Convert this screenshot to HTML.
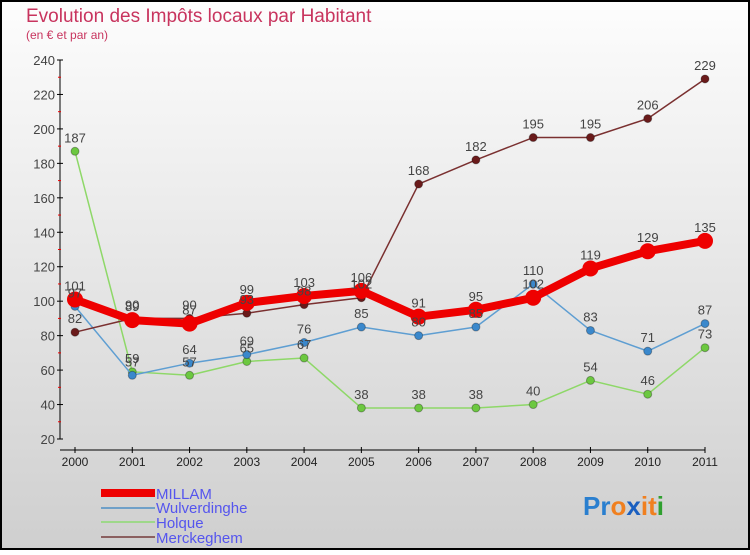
<!DOCTYPE html>
<html><head><meta charset="utf-8"><style>
html,body{margin:0;padding:0}
body{width:750px;height:550px;overflow:hidden;font-family:"Liberation Sans",sans-serif}
</style></head><body>
<svg id="chart" width="750" height="550" xmlns="http://www.w3.org/2000/svg">
<defs><linearGradient id="bg" x1="0" y1="0" x2="0" y2="1"><stop offset="0" stop-color="#fdfdfd"/><stop offset="1" stop-color="#cfcfcf"/></linearGradient></defs>
<rect x="1" y="1" width="748" height="548" fill="url(#bg)" stroke="#000" stroke-width="2"/>
<text x="26" y="22" font-size="19" fill="#c8345e">Evolution des Impôts locaux par Habitant</text>
<text x="26" y="39" font-size="12" fill="#c8345e">(en € et par an)</text>
<g id="axes"></g><g id="series"></g><g id="labels"></g>
<g>
<rect x="101" y="489" width="54" height="8" fill="#ee0000"/><text x="156" y="499" font-size="15" fill="#5555ee">MILLAM</text>
<line x1="101" y1="508" x2="155" y2="508" stroke="#6fa0c8" stroke-width="2"/><text x="156" y="513" font-size="15" fill="#5555ee">Wulverdinghe</text>
<line x1="101" y1="522" x2="155" y2="522" stroke="#9ed88a" stroke-width="2"/><text x="156" y="528" font-size="15" fill="#5555ee">Holque</text>
<line x1="101" y1="537" x2="155" y2="537" stroke="#8b6060" stroke-width="2"/><text x="156" y="543" font-size="15" fill="#5555ee">Merckeghem</text>
</g>
<g font-size="26" font-weight="bold">
<text x="583" y="515"><tspan fill="#2a7fcf">Pr</tspan><tspan fill="#f08020">o</tspan><tspan fill="#1a5fc0">x</tspan><tspan fill="#f08020">i</tspan><tspan fill="#f08020">t</tspan><tspan fill="#30a030">i</tspan></text>
</g>
</svg>
<script>
const years=["2000","2001","2002","2003","2004","2005","2006","2007","2008","2009","2010","2011"];
const yTicks=[20,40,60,80,100,120,140,160,180,200,220,240];
const millam=[101,89,87,99,103,106,91,95,102,119,129,135];
const wulverdinghe=[97,57,64,69,76,85,80,85,110,83,71,87];
const holque=[187,59,57,65,67,38,38,38,40,54,46,73];
const merckeghem=[82,90,90,93,98,102,168,182,195,195,206,229];
const NS="http://www.w3.org/2000/svg";
const xs=i=>75+i*(630/(years.length-1));
const ys=v=>60+(240-v)*379/220;
function mk(tag,attrs,parent){const e=document.createElementNS(NS,tag);for(const k in attrs)e.setAttribute(k,attrs[k]);parent.appendChild(e);return e;}
const ax=document.getElementById('axes');
const yl=mk('line',{x1:60,y1:60,x2:60,y2:439,stroke:'#000'},ax);


const xl=mk('line',{x1:60,y1:450,x2:705,y2:450,stroke:'#000'},ax);


yTicks.forEach(v=>{
 mk('line',{x1:57,y1:ys(v),x2:63,y2:ys(v),stroke:'#000'},ax);
 if(v<240) mk('line',{x1:58,y1:ys(v+10),x2:61,y2:ys(v+10),stroke:'#e00'},ax);
 const t=mk('text',{x:55,y:ys(v)+5,'text-anchor':'end','font-size':13,fill:'#444'},ax);
 t.textContent=v;
 
 
});
years.forEach((y,i)=>{
 mk('line',{x1:xs(i),y1:447,x2:xs(i),y2:453,stroke:'#000'},ax);
 const t=mk('text',{x:xs(i),y:466,'text-anchor':'middle','font-size':12,fill:'#222'},ax);
 t.textContent=y;
 
 
});
const sg=document.getElementById('series'),lg=document.getElementById('labels');
const defs=[[holque,'#8ed868','#6cc840',1.5,4,'holque'],[wulverdinghe,'#5e9ed2','#3a88cc',1.5,4,'wulverdinghe'],[merckeghem,'#7a3030','#6a1a1a',1.5,4,'merckeghem'],[millam,'#ee0000','#ee0000',8,8,'millam']];
defs.forEach(([d,lc,pc,w,r,name])=>{
 const p=mk('polyline',{points:d.map((v,i)=>xs(i)+','+ys(v)).join(' '),fill:'none',stroke:lc,'stroke-width':w,'stroke-linejoin':'round'},sg);
 
 
 d.forEach((v,i)=>{
  const c=mk('circle',{cx:xs(i),cy:ys(v),r:r,fill:pc,stroke:name==='millam'?'none':'rgba(0,0,0,0.3)'},sg);
  
  
  const t=mk('text',{x:xs(i),y:ys(v)-9,'text-anchor':'middle','font-size':13,fill:'#444'},lg);
  t.textContent=v;
  
  
 });
});
</script>
</body></html>
